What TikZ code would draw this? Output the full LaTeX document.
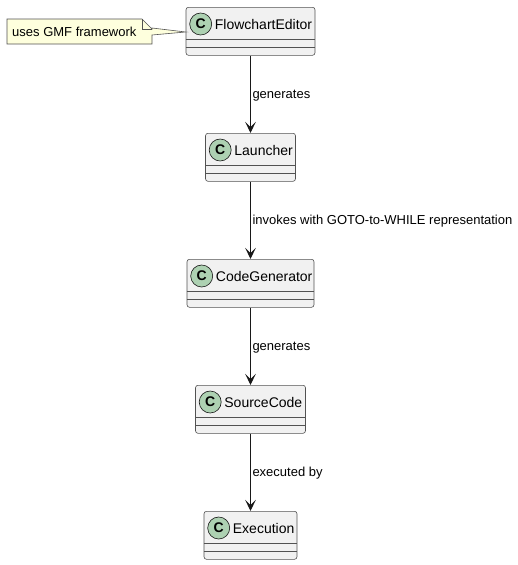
\documentclass[tikz,border=0pt]{standalone}
\usepackage{fontspec}
\setmainfont{Liberation Sans}
\usetikzlibrary{arrows.meta,calc}
\definecolor{boxfill}{HTML}{F1F1F1}
\definecolor{boxdraw}{HTML}{181818}
\definecolor{circfill}{HTML}{ADD1B2}
\definecolor{notefill}{HTML}{FEFFDD}
\tikzset{
  classbox/.style={draw=boxdraw!75, fill=boxfill, rounded corners=2.5pt, line width=0.6pt, minimum height=48pt, inner sep=0pt, anchor=north},
  sepline/.style={draw=boxdraw!75, line width=0.6pt},
  circ/.style={circle, draw=boxdraw, fill=circfill, line width=0.6pt, minimum size=22pt, inner sep=0pt, font=\fontsize{14}{14}\selectfont\bfseries},
  cname/.style={anchor=west, inner sep=0pt, font=\fontsize{14}{16}\selectfont},
  lbl/.style={anchor=west, inner sep=0pt, xshift=1.5pt, yshift=-1pt, font=\fontsize{13}{15}\selectfont},
  arr/.style={draw=boxdraw, line width=1pt, -{Stealth[length=11pt,width=10.5pt,inset=5pt]}},
  notebox/.style={draw=boxdraw!75, fill=notefill, line width=0.6pt},
}
\newcommand{\umlclass}[5]{%
  \node[classbox, minimum width=#4pt] (#1) at (250.5,#3) {};
  \draw[sepline] ($(#1.north west)+(0,32)$) -- ($(#1.north east)+(0,32)$);
  \draw[sepline] ($(#1.north west)+(0,40)$) -- ($(#1.north east)+(0,40)$);
  \node[circ] (#1c) at ($(#1.north west)+(15,17)$) {C};
  \node[cname] (#1t) at ($(#1.north west)+(29,17.5)$) {#5};
}
\begin{document}
\begin{tikzpicture}[x=1pt,y=-1pt]
\useasboundingbox (0,0) rectangle (518,565);
\umlclass{fe}{250.5}{7}{129}{FlowchartEditor}
\umlclass{la}{250.5}{133}{90}{Launcher}
\umlclass{cg}{250.5}{259}{127}{CodeGenerator}
\umlclass{sc}{250.5}{385}{110}{SourceCode}
\umlclass{ex}{250.5}{511}{93}{Execution}
\draw[arr] (fe.south) -- (la.north) node[lbl, midway] {generates};
\draw[arr] (la.south) -- (cg.north) node[lbl, midway] {invokes with GOTO-to-WHILE representation};
\draw[arr] (cg.south) -- (sc.north) node[lbl, midway] {generates};
\draw[arr] (sc.south) -- (ex.north) node[lbl, midway] {executed by};
% note
\coordinate (tip) at ($(fe.north west)+(0,25)$);
\draw[notebox] (7,19) -- (142,19) -- (152,29) -- (152,28) -- (tip) -- (152,35) -- (152,44) -- (7,44) -- cycle;
\draw[notebox, fill=none] (142,19) -- (142,29) -- (152,29);
\node[anchor=west, inner sep=0pt, font=\fontsize{13}{15}\selectfont] (nt) at (12,32) {uses GMF framework};
\end{tikzpicture}
\end{document}
